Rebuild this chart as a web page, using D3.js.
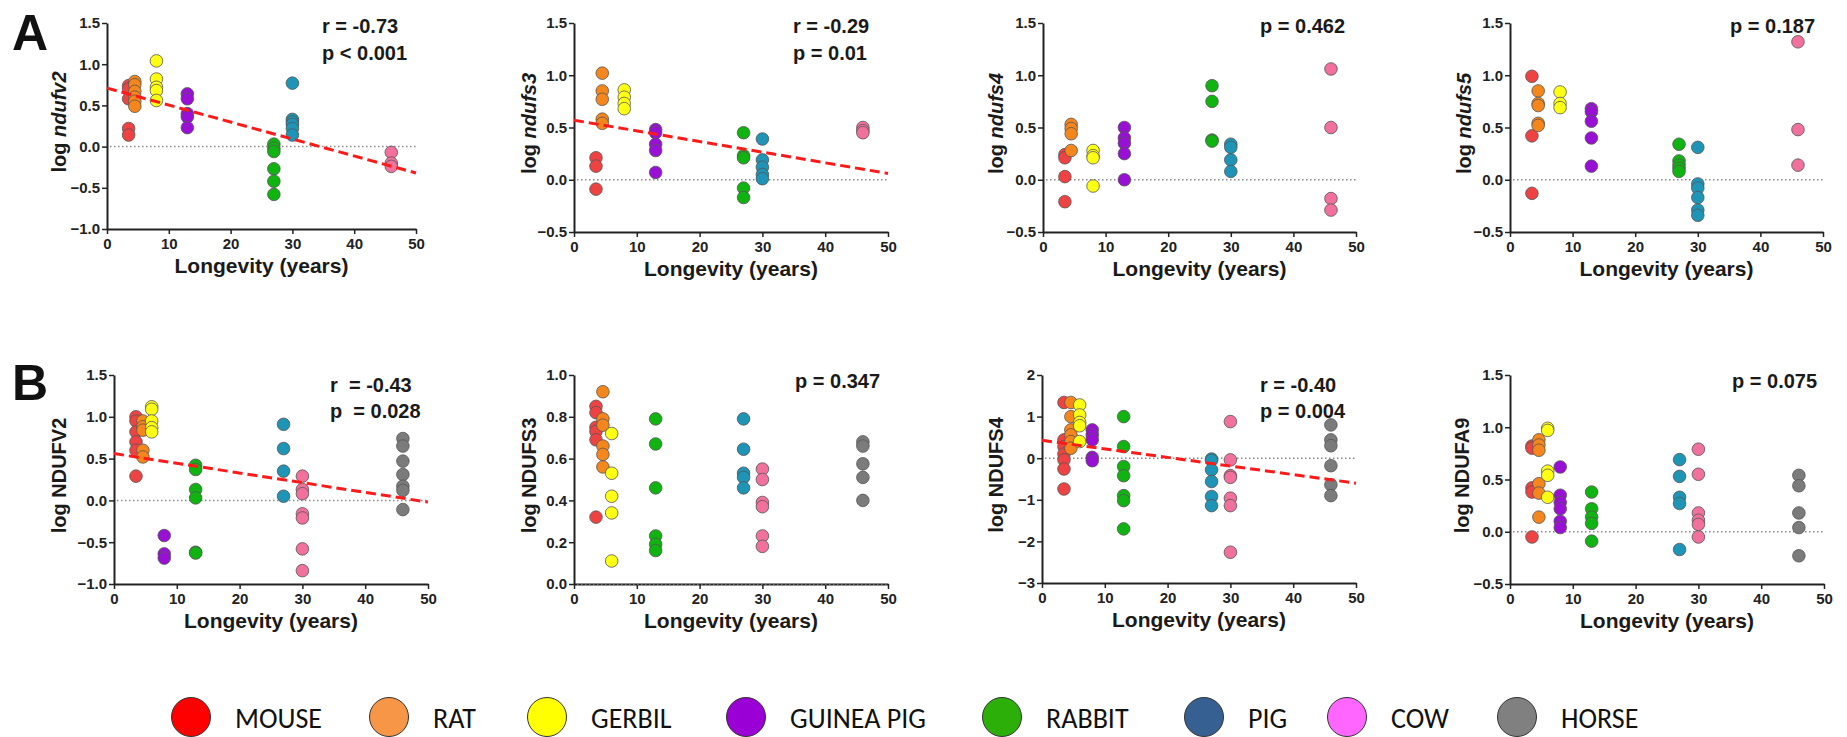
<!DOCTYPE html>
<html>
<head>
<meta charset="utf-8">
<script src="https://cdn.jsdelivr.net/npm/d3@7"></script>
<style>
  body { margin: 0; background: #fff; }
  svg { display: block; }
  .axis path, .axis line { stroke: #222; }
  .axis text { font-family: "Liberation Sans", Arial, sans-serif; font-weight: bold; font-size: 15px; fill: #222; }
</style>
</head>
<body>
<div id="chart"></div>
<script>
// species and colours
var species = ["MOUSE", "RAT", "GERBIL", "GUINEA PIG", "RABBIT", "PIG", "COW", "HORSE"];
var pointColors = ["#ef4343", "#f5861c", "#ffff14", "#9a0fd6", "#10b410", "#1e94b6", "#f2709c", "#7b7b7b"];
var legendColors = ["#ff0000", "#f79646", "#ffff00", "#9a00d6", "#2daf0a", "#366092", "#ff66ff", "#808080"];

// longevity (years) of each species as plotted in row A and row B
var longevityA = [3.5, 4.5, 8, 13, 27, 30, 46];
var longevityB = [3.5, 4.6, 6, 8, 13, 27, 30, 46];
var xTicks = [0, 10, 20, 30, 40, 50];

// row A: mRNA, one list per species (mouse, rat, gerbil, guinea pig, rabbit, pig, cow)
var ndufv2 = [
  [0.74, 0.70, 0.58, 0.22, 0.14],
  [0.79, 0.75, 0.67, 0.60, 0.55, 0.49],
  [1.04, 0.82, 0.72, 0.68, 0.56],
  [0.64, 0.58, 0.40, 0.36, 0.23],
  [0.03, -0.02, -0.06, -0.27, -0.42, -0.58],
  [0.77, 0.33, 0.30, 0.27, 0.22, 0.14],
  [-0.07, -0.20, -0.24]
];
var ndufs3 = [
  [0.21, 0.13, -0.09],
  [1.02, 0.85, 0.77, 0.58, 0.54],
  [0.86, 0.79, 0.73, 0.68],
  [0.48, 0.45, 0.34, 0.28, 0.07],
  [0.45, 0.23, 0.21, -0.08, -0.17],
  [0.39, 0.19, 0.12, 0.05, 0.01],
  [0.50, 0.47, 0.45]
];
var ndufs4 = [
  [0.24, 0.21, 0.03, -0.21],
  [0.53, 0.49, 0.44, 0.28],
  [0.28, 0.23, 0.21, -0.06],
  [0.50, 0.40, 0.35, 0.25, 0.00],
  [0.90, 0.75, 0.38, 0.37],
  [0.34, 0.31, 0.19, 0.08],
  [1.06, 0.50, -0.18, -0.29]
];
var ndufs5 = [
  [0.99, 0.42, -0.13],
  [0.85, 0.73, 0.71, 0.54, 0.52],
  [0.84, 0.73, 0.69],
  [0.68, 0.65, 0.56, 0.40, 0.13],
  [0.34, 0.18, 0.14, 0.11, 0.08],
  [0.31, -0.04, -0.08, -0.17, -0.29, -0.34],
  [1.32, 0.48, 0.14]
];

// row B: protein, one list per species (mouse ... horse)
var NDUFV2 = [
  [1.00, 0.95, 0.82, 0.70, 0.60, 0.29],
  [0.95, 0.88, 0.84, 0.60, 0.52],
  [1.12, 1.09, 0.95, 0.87, 0.82],
  [-0.42, -0.64, -0.69],
  [0.42, 0.37, 0.13, 0.03, -0.62, -0.63],
  [0.91, 0.62, 0.35, 0.05],
  [0.29, 0.13, 0.08, -0.16, -0.21, -0.58, -0.84],
  [0.74, 0.65, 0.47, 0.31, 0.17, 0.12, -0.11]
];
var NDUFS3 = [
  [0.85, 0.82, 0.75, 0.73, 0.69, 0.32],
  [0.92, 0.79, 0.76, 0.66, 0.62, 0.56],
  [0.72, 0.53, 0.42, 0.34, 0.11],
  [],
  [0.79, 0.67, 0.46, 0.23, 0.19, 0.16],
  [0.79, 0.645, 0.53, 0.51, 0.46],
  [0.55, 0.50, 0.39, 0.37, 0.23, 0.18],
  [0.68, 0.66, 0.575, 0.51, 0.40]
];
var NDUFS4 = [
  [1.34, 0.44, 0.28, 0.10, -0.04, -0.26, -0.74],
  [1.34, 1.00, 0.68, 0.56, 0.40, 0.24],
  [1.28, 1.04, 0.86, 0.78, 0.40],
  [0.68, 0.56, 0.44, 0.02, -0.06],
  [1.00, 0.28, -0.20, -0.42, -0.90, -1.02, -1.70],
  [-0.02, -0.05, -0.28, -0.56, -0.92, -1.14],
  [0.88, -0.04, -0.42, -0.46, -0.96, -1.14, -2.26],
  [0.80, 0.44, 0.30, -0.18, -0.64, -0.90]
];
var NDUFA9 = [
  [0.82, 0.80, 0.42, 0.38, -0.05],
  [0.88, 0.83, 0.78, 0.46, 0.37, 0.14],
  [0.99, 0.97, 0.58, 0.54, 0.33],
  [0.62, 0.35, 0.28, 0.22, 0.10, 0.04],
  [0.38, 0.22, 0.14, 0.08, -0.09],
  [0.69, 0.53, 0.33, 0.27, -0.17],
  [0.79, 0.55, 0.18, 0.11, 0.07, -0.05],
  [0.54, 0.44, 0.18, 0.04, -0.23]
];

// regression lines: value at longevity 0 and at 50
var fitNdufv2 = [0.71, -0.32];
var fitNdufs3 = [0.57, 0.06];
var fitNDUFV2 = [0.56, -0.02];
var fitNDUFS4 = [0.43, -0.60];

var ticksA1 = [-1, -0.5, 0, 0.5, 1, 1.5];
var ticksA = [-0.5, 0, 0.5, 1, 1.5];
var ticksB2 = [0, 0.2, 0.4, 0.6, 0.8, 1];
var ticksB3 = [-3, -2, -1, 0, 1, 2];

var panels = [
  { data: ndufv2, xs: longevityA, gene: "ndufv2", italic: true, yDom: [-1, 1.5], yTicks: ticksA1, fmt: ".1f",
    fit: fitNdufv2, stats: ["r = -0.73", "p < 0.001"], box: [107, 416, 23, 229], labOff: 41, statX: 322, statY: [33, 60] },
  { data: ndufs3, xs: longevityA, gene: "ndufs3", italic: true, yDom: [-0.5, 1.5], yTicks: ticksA, fmt: ".1f",
    fit: fitNdufs3, stats: ["r = -0.29", "p = 0.01"], box: [574, 888, 23, 232], labOff: 38, statX: 793, statY: [33, 60] },
  { data: ndufs4, xs: longevityA, gene: "ndufs4", italic: true, yDom: [-0.5, 1.5], yTicks: ticksA, fmt: ".1f",
    fit: null, stats: ["p = 0.462"], box: [1043, 1356, 23, 232], labOff: 40, statX: 1260, statY: [33] },
  { data: ndufs5, xs: longevityA, gene: "ndufs5", italic: true, yDom: [-0.5, 1.5], yTicks: ticksA, fmt: ".1f",
    fit: null, stats: ["p = 0.187"], box: [1510, 1823, 23, 232], labOff: 39, statX: 1730, statY: [33] },
  { data: NDUFV2, xs: longevityB, gene: "NDUFV2", italic: false, yDom: [-1, 1.5], yTicks: ticksA1, fmt: ".1f",
    fit: fitNDUFV2, stats: ["r  = -0.43", "p  = 0.028"], box: [114, 428, 375, 584], labOff: 48, statX: 330, statY: [392, 418] },
  { data: NDUFS3, xs: longevityB, gene: "NDUFS3", italic: false, yDom: [0, 1], yTicks: ticksB2, fmt: ".1f",
    fit: null, stats: ["p = 0.347"], box: [574, 888, 375, 584], labOff: 38, statX: 795, statY: [388] },
  { data: NDUFS4, xs: longevityB, gene: "NDUFS4", italic: false, yDom: [-3, 2], yTicks: ticksB3, fmt: "d",
    fit: fitNDUFS4, stats: ["r = -0.40", "p = 0.004"], box: [1042, 1356, 375, 583], labOff: 39, statX: 1260, statY: [392, 418] },
  { data: NDUFA9, xs: longevityB, gene: "NDUFA9", italic: false, yDom: [-0.5, 1.5], yTicks: ticksA, fmt: ".1f",
    fit: null, stats: ["p = 0.075"], box: [1510, 1824, 375, 584], labOff: 41, statX: 1732, statY: [388] }
];

var font = "'Liberation Sans', Arial, sans-serif";

var svg = d3.select("#chart")
  .append("svg")
    .attr("width", 1847)
    .attr("height", 737)
    .style("background", "#fff");

// panel letters
svg.append("text").attr("x", 12).attr("y", 50).text("A")
  .style("font-family", font).style("font-weight", "bold").style("font-size", "50px").style("fill", "#111");
svg.append("text").attr("x", 12).attr("y", 400).text("B")
  .style("font-family", font).style("font-weight", "bold").style("font-size", "50px").style("fill", "#111");

panels.forEach(function(p) {
  var x = d3.scaleLinear().domain([0, 50]).range([p.box[0], p.box[1]]);
  var y = d3.scaleLinear().domain(p.yDom).range([p.box[3], p.box[2]]);
  var g = svg.append("g");

  // axes
  g.append("g")
    .attr("class", "axis")
    .attr("transform", "translate(0," + p.box[3] + ")")
    .call(d3.axisBottom(x).tickValues(xTicks).tickSize(5).tickSizeOuter(0).tickPadding(4));
  g.append("g")
    .attr("class", "axis")
    .attr("transform", "translate(" + p.box[0] + ",0)")
    .call(d3.axisLeft(y).tickValues(p.yTicks).tickFormat(d3.format(p.fmt)).tickSize(5).tickSizeOuter(0).tickPadding(2));
  g.selectAll(".axis path").attr("stroke-width", 2);
  g.selectAll(".axis line").attr("stroke-width", 1.5);

  // dotted zero line
  g.append("line")
    .attr("x1", x(0) + 3).attr("x2", x(50))
    .attr("y1", y(0)).attr("y2", y(0))
    .attr("stroke", "#888").attr("stroke-width", 1.5).attr("stroke-dasharray", "1.5,2.5");

  // points
  p.data.forEach(function(vals, i) {
    g.append("g").selectAll("circle")
      .data(vals)
      .enter()
      .append("circle")
        .attr("cx", x(p.xs[i]))
        .attr("cy", function(d) { return y(d); })
        .attr("r", 6.3)
        .style("fill", pointColors[i])
        .style("stroke", "#555")
        .style("stroke-width", 0.8);
  });

  // regression line
  if (p.fit) {
    g.append("line")
      .attr("x1", x(0)).attr("y1", y(p.fit[0]))
      .attr("x2", x(50)).attr("y2", y(p.fit[1]))
      .attr("stroke", "#ff1a1a").attr("stroke-width", 3).attr("stroke-dasharray", "10,5");
  }

  // axis titles
  g.append("text")
    .attr("x", (p.box[0] + p.box[1]) / 2)
    .attr("y", p.box[3] + 44)
    .attr("text-anchor", "middle")
    .text("Longevity (years)")
    .style("font-family", font).style("font-weight", "bold").style("font-size", "21px").style("fill", "#1a1a1a");

  var cy = (p.box[2] + p.box[3]) / 2 - 4;
  var yl = g.append("text")
    .attr("transform", "translate(" + (p.box[0] - p.labOff) + "," + cy + ") rotate(-90)")
    .attr("text-anchor", "middle")
    .style("font-family", font).style("font-weight", "bold").style("font-size", "20px").style("fill", "#1a1a1a");
  yl.append("tspan").text("log ");
  yl.append("tspan").text(p.gene).style("font-style", p.italic ? "italic" : "normal");

  // statistics
  p.stats.forEach(function(s, k) {
    g.append("text")
      .attr("x", p.statX)
      .attr("y", p.statY[k])
      .attr("xml:space", "preserve")
      .style("white-space", "pre")
      .text(s)
      .style("font-family", font).style("font-weight", "bold").style("font-size", "20px").style("fill", "#1a1a1a");
  });
});

// legend
var legendX = [191, 389, 547, 746, 1002, 1204, 1347, 1517];
var legend = svg.append("g").selectAll("g")
  .data(species)
  .enter()
  .append("g")
    .attr("transform", function(d, i) { return "translate(" + legendX[i] + ",717)"; });
legend.append("circle")
  .attr("r", 19.5)
  .style("fill", function(d, i) { return legendColors[i]; })
  .style("stroke", "#333")
  .style("stroke-width", 1);
legend.append("text")
  .attr("x", 44)
  .attr("y", 11)
  .text(function(d) { return d; })
  .style("font-family", "Carlito, 'Liberation Sans Narrow', 'Liberation Sans', sans-serif")
  .style("font-size", "28px")
  .style("fill", "#111");
</script>
</body>
</html>
